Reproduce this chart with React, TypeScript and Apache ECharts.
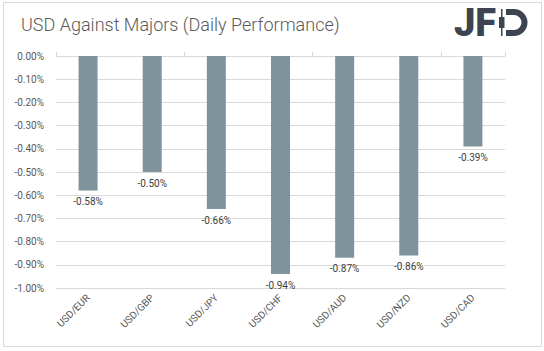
import React, { useEffect, useRef } from "react";
import * as echarts from "echarts";

const categories = ["USD/EUR", "USD/GBP", "USD/JPY", "USD/CHF", "USD/AUD", "USD/NZD", "USD/CAD"];
const values = [-0.58, -0.5, -0.66, -0.94, -0.87, -0.86, -0.39];
const titleText = "USD Against Majors (Daily Performance)";

echarts.graphic.registerShape(
  "jfdD",
  echarts.graphic.extendPath(
    "M0,0 H8 A13.5,13.5 0 0 1 8,27 H0 V21 H8 A7.5,7.5 0 0 0 8,6 H0 Z",
    {}
  )
);

export default function App() {
  const ref = useRef<HTMLDivElement>(null);
  useEffect(() => {
    const chart = echarts.init(ref.current!, undefined, { renderer: "svg" });
    const font = "Roboto";
    chart.setOption({
      animation: false,
      backgroundColor: "#ffffff",
      title: {
        text: titleText,
        left: 16,
        top: 10,
        textStyle: { fontFamily: font, fontSize: 18, fontWeight: 300, color: "#595959" },
      },
      grid: { left: 56, right: 39, top: 56, bottom: 63 },
      xAxis: [
        {
          type: "category",
          data: categories,
          axisLine: { onZero: true, lineStyle: { color: "#d9d9d9" } },
          axisTick: { show: true, inside: true, length: 4, lineStyle: { color: "#d9d9d9" } },
          axisLabel: { show: false },
          splitLine: { show: false },
        },
        {
          type: "category",
          data: categories,
          position: "bottom",
          axisLine: { show: false },
          axisTick: { show: false },
          axisLabel: { rotate: 45, fontFamily: font, fontSize: 10, color: "#595959", margin: 8 },
        },
      ],
      yAxis: {
        type: "value",
        min: -1,
        max: 0,
        interval: 0.1,
        axisLine: { show: false },
        axisTick: { show: false },
        splitLine: { lineStyle: { color: "#d9d9d9" } },
        axisLabel: {
          fontFamily: font,
          fontSize: 10,
          color: "#595959",
          margin: 12,
          formatter: (v: number) => v.toFixed(2) + "%",
        },
      },
      series: [
        {
          type: "bar",
          xAxisIndex: 0,
          data: values,
          barWidth: 19,
          itemStyle: { color: "#7f939c" },
          label: {
            show: true,
            position: "bottom",
            distance: 6,
            fontFamily: font,
            fontSize: 10,
            color: "#404040",
            formatter: (p: any) => p.value.toFixed(2) + "%",
          },
        },
      ],
      graphic: [
        {
          type: "rect",
          shape: { x: 3.5, y: 2.5, width: 538, height: 344 },
          style: { fill: "none", stroke: "#d9d9d9", lineWidth: 1 },
          silent: true,
        },
        {
          type: "text",
          x: 454,
          y: 23,
          style: {
            text: "JF",
            font: "900 38px Roboto",
            fill: "#3b4450",
            textVerticalAlign: "middle",
          },
        },
        { type: "rect", shape: { x: 501, y: 9, width: 1.5, height: 27 }, style: { fill: "#3b4450" } },
        { type: "rect", shape: { x: 499, y: 17, width: 5.5, height: 11 }, style: { fill: "#3b4450" } },
        { type: "jfdD", x: 506, y: 9, style: { fill: "#3b4450" } },
      ],
    });
    return () => chart.dispose();
  }, []);
  return <div ref={ref} style={{ width: 544, height: 351, position: "absolute", left: 0, top: 0 }} />;
}
